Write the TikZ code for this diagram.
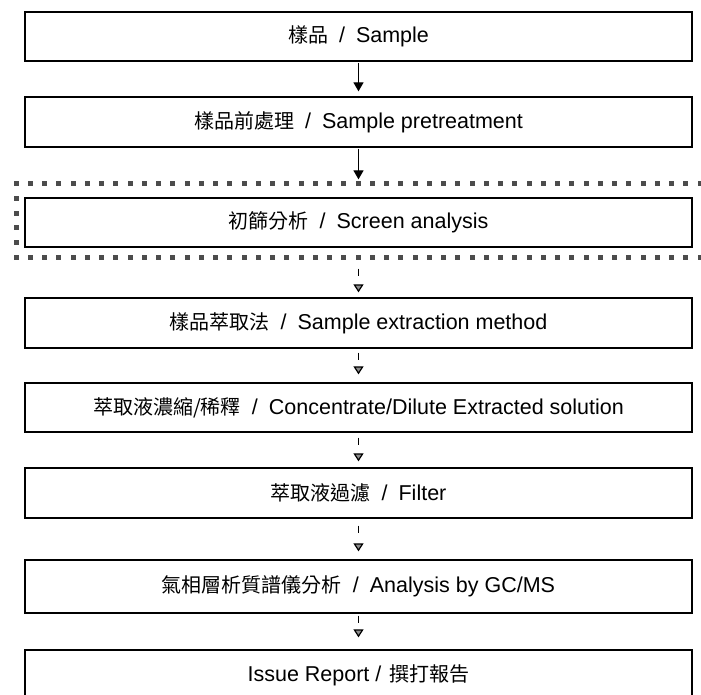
\documentclass[tikz,border=0pt]{standalone}
\usepackage{fontspec}
\setmainfont{Liberation Sans}
\newfontfamily\cjk{Noto Sans CJK TC}
\usetikzlibrary{arrows.meta}
\newcommand{\zh}[1]{{\cjk\fontsize{20}{22}\selectfont #1}}
\newcommand{\sepsl}{\hspace{11pt}/\hspace{11pt}}
\tikzset{
  stepbox/.style={draw=black, line width=1.3pt, minimum width=667pt, minimum height=#1,
    inner sep=0pt, font=\fontsize{21.5}{24}\selectfont},
  solidarrow/.style={line width=1.3pt, -{Triangle[width=10pt,length=9pt]}},
  dasharrow/.style={line width=1.2pt, dash pattern=on 7pt off 40pt,
    -{Triangle[width=10pt,length=8pt,fill=black!45]}},
}
\begin{document}
\begin{tikzpicture}[x=1pt,y=-1pt]
\useasboundingbox (0,0) rectangle (701,695);
\clip (0,0) rectangle (701,695);
\fill[white] (0,0) rectangle (701,695);

\node[stepbox=49pt] (b1) at (358.5,36.5) {\zh{樣品}\sepsl Sample};
\node[stepbox=50pt] (b2) at (358.5,122) {\zh{樣品前處理}\sepsl Sample pretreatment};
\node[stepbox=49pt] (b3) at (358.5,222.5) {\zh{初篩分析}\sepsl Screen analysis};
\node[stepbox=50pt] (b4) at (358.5,323) {\zh{樣品萃取法}\sepsl Sample extraction method};
\node[stepbox=49pt] (b5) at (358.5,407.5) {\zh{萃取液濃縮/稀釋}\sepsl Concentrate/Dilute Extracted solution};
\node[stepbox=50pt] (b6) at (358.5,493) {\zh{萃取液過濾}\sepsl Filter};
\node[stepbox=53pt] (b7) at (358.5,586.5) {\zh{氣相層析質譜儀分析}\sepsl Analysis by GC/MS};
\node[stepbox=50pt] (b8) at (358.5,675) {Issue Report /\hspace{8pt}\zh{撰打報告}};

% dotted square frame around screening box
\foreach \i in {0,...,48} {
  \fill[black!70] (16+14.25*\i-2.5,184-2.5) rectangle ++(5,5);
  \fill[black!70] (16+14.25*\i-2.5,257-2.5) rectangle ++(5,5);
}
\foreach \j in {1,...,4} {
  \fill[black!70] (16-2.5,184+14.6*\j-2.5) rectangle ++(5,5);
}

\draw[solidarrow, shorten <=1pt, shorten >=5pt] (b1) -- (b2);
\draw[solidarrow, shorten <=1pt, shorten >=18pt] (b2) -- (b3);
\draw[dasharrow, shorten <=21pt, shorten >=5pt] (b3) -- (b4);
\draw[dasharrow, shorten <=4pt, shorten >=8pt] (b4) -- (b5);
\draw[dasharrow, shorten <=5pt, shorten >=6pt] (b5) -- (b6);
\draw[dasharrow, shorten <=7pt, shorten >=8pt] (b6) -- (b7);
\draw[dasharrow, shorten <=2pt, shorten >=12pt] (b7) -- (b8);
\end{tikzpicture}
\end{document}
